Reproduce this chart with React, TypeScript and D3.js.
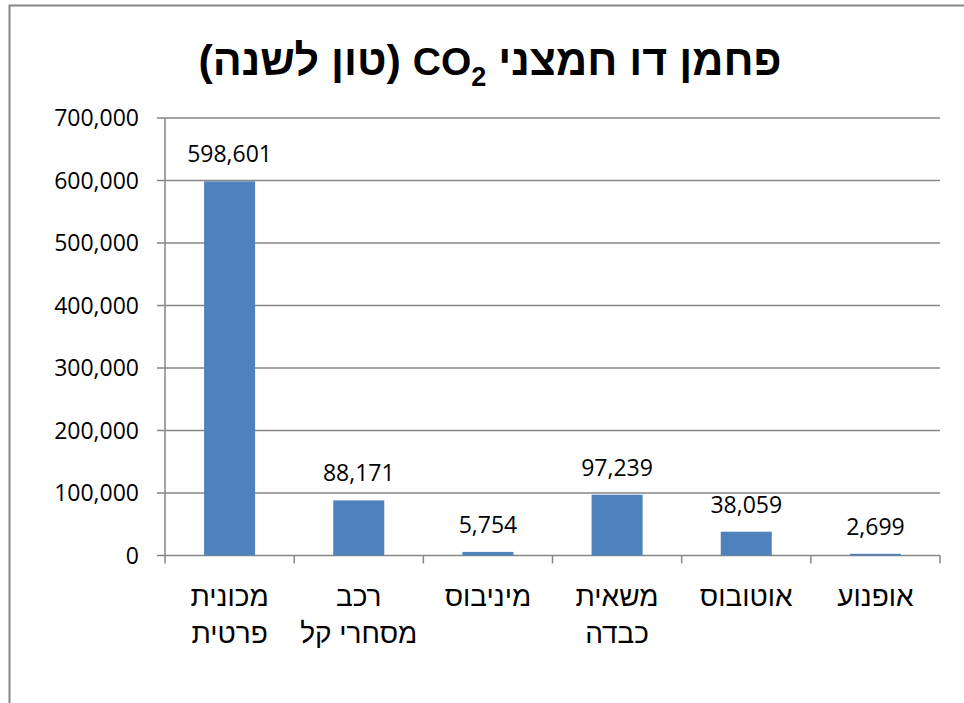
import React from "react";
import * as d3 from "d3";

// Annual CO2 emissions by vehicle type (tonnes per year)
const categoryLines: string[][] = [
  ["מכונית", "פרטית"],
  ["רכב", "מסחרי קל"],
  ["מיניבוס"],
  ["משאית", "כבדה"],
  ["אוטובוס"],
  ["אופנוע"],
];
const emissions: number[] = [598601, 88171, 5754, 97239, 38059, 2699];
const yTicks: number[] = [0, 100000, 200000, 300000, 400000, 500000, 600000, 700000];

const W = 964;
const H = 703;
const plot = { left: 165, right: 940, top: 118, bottom: 555.5 };
const GRID = "#868686";
const BAR = "#4F81BD";
const NUM_FONT = "'Open Sans', 'Liberation Sans', sans-serif";
const HEB_FONT = "'Liberation Sans', Arial, sans-serif";

const fmt = d3.format(",");

export default function App() {
  const idx = emissions.map((_, i) => i);
  const x = d3
    .scaleBand<number>()
    .domain(idx)
    .range([plot.left, plot.right])
    .paddingInner(0.605)
    .paddingOuter(0.3025);
  const slots = d3.scaleBand<number>().domain(idx).range([plot.left, plot.right]);
  const y = d3.scaleLinear().domain([0, 700000]).range([plot.bottom, plot.top]);

  const boundaries = [...idx.map((i) => slots(i)!), plot.right];

  return (
    <svg
      width={W}
      height={H}
      style={{ position: "fixed", left: 0, top: 0, background: "#fff" }}
    >
      {/* chart frame */}
      <path d={`M9.5,${H + 2} V5.5 H${W + 2}`} fill="none" stroke={GRID} strokeWidth={2} />

      {/* title */}
      <text
        x={490}
        y={75}
        textAnchor="middle"
        direction="rtl"
        fontFamily={HEB_FONT}
        fontWeight="bold"
        fontSize={43}
        fill="#000"
      >
        פחמן דו חמצני <tspan fontSize={39}>CO</tspan><tspan fontSize={27} baselineShift="-11">2</tspan> (טון לשנה)
      </text>

      {/* horizontal gridlines with tick marks */}
      {yTicks.map((t) => (
        <line
          key={t}
          x1={plot.left - 8}
          x2={plot.right}
          y1={y(t)}
          y2={y(t)}
          stroke={GRID}
          strokeWidth={1.5}
        />
      ))}
      {/* value axis line */}
      <line x1={plot.left} x2={plot.left} y1={plot.top} y2={plot.bottom} stroke={GRID} strokeWidth={1.5} />
      {/* category boundary ticks */}
      {boundaries.map((bx, i) => (
        <line key={i} x1={bx} x2={bx} y1={plot.bottom} y2={plot.bottom + 8} stroke={GRID} strokeWidth={1.5} />
      ))}

      {/* y tick labels */}
      {yTicks.map((t) => (
        <text
          key={t}
          x={139}
          y={y(t)}
          dy="0.35em"
          textAnchor="end"
          fontFamily={NUM_FONT}
          fontSize={23}
          fill="#000"
        >
          {fmt(t)}
        </text>
      ))}

      {/* bars */}
      {emissions.map((v, i) => (
        <rect
          key={i}
          x={x(i)}
          y={y(v)}
          width={x.bandwidth()}
          height={plot.bottom - y(v)}
          fill={BAR}
        />
      ))}

      {/* value labels */}
      {emissions.map((v, i) => (
        <text
          key={i}
          x={x(i)! + x.bandwidth() / 2}
          y={y(v) - 27}
          dy="0.35em"
          textAnchor="middle"
          fontFamily={NUM_FONT}
          fontSize={23}
          fill="#000"
        >
          {fmt(v)}
        </text>
      ))}

      {/* category labels */}
      {categoryLines.map((lines, i) => (
        <text
          key={i}
          x={slots(i)! + slots.bandwidth() / 2}
          y={606}
          textAnchor="middle"
          direction="rtl"
          fontFamily={HEB_FONT}
          fontSize={28}
          fill="#000"
        >
          {lines.map((ln, j) => (
            <tspan key={j} x={slots(i)! + slots.bandwidth() / 2} dy={j === 0 ? 0 : 37}>
              {ln}
            </tspan>
          ))}
        </text>
      ))}
    </svg>
  );
}
